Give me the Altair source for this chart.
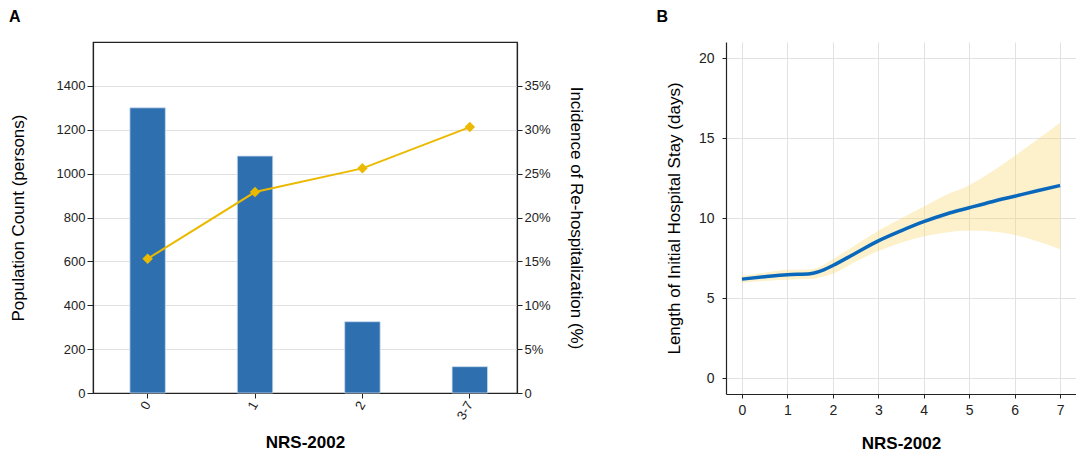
import altair as alt
import pandas as pd

# ---- Panel A data ----
categories = ["0", "1", "2", "3-7"]
population = [1300, 1080, 325, 120]
incidence = [15.3, 22.9, 25.6, 30.3]

# ---- Panel B data ----
nrs_x = [0, 0.5, 1, 1.5, 1.8, 2, 2.5, 3, 3.5, 4, 4.5, 5, 5.5, 6, 6.5, 7]
los_fit = [6.18, 6.33, 6.46, 6.52, 6.76, 7.03, 7.8, 8.57, 9.2, 9.77, 10.25, 10.64, 11.02, 11.36, 11.7, 12.03]
los_lo = [5.97, 6.06, 6.14, 6.18, 6.35, 6.51, 7.28, 7.94, 8.46, 8.85, 9.1, 9.22, 9.15, 8.94, 8.55, 8.05]
los_hi = [6.39, 6.58, 6.76, 6.78, 7.08, 7.42, 8.31, 9.2, 9.97, 10.7, 11.45, 12.05, 12.9, 13.87, 14.9, 15.95]

FONT = "Liberation Sans"
INK = "#222222"
GRID = "#E2E2E2"

dfA = pd.DataFrame({"cat": categories, "pop": population, "inc": incidence})
dfB = pd.DataFrame({"x": nrs_x, "fit": los_fit, "lo": los_lo, "hi": los_hi})

xA = alt.X(
    "cat:N", sort=categories, title="NRS-2002",
    scale=alt.Scale(paddingInner=0.67, paddingOuter=0.309, align=0.556),
    axis=alt.Axis(labelAngle=300, labelFontSize=13, titleFontSize=17, titleFontWeight="bold",
                  titlePadding=13, tickSize=5, grid=False, labelPadding=4),
)

bars = alt.Chart(dfA).mark_bar(color="#2E6FB0", stroke="#C9D9EC", strokeWidth=0.8).encode(
    x=xA,
    y=alt.Y("pop:Q", title="Population Count (persons)",
            scale=alt.Scale(domain=[0, 1600], nice=False),
            axis=alt.Axis(values=[0, 200, 400, 600, 800, 1000, 1200, 1400], grid=True, format="d",
                          labelFontSize=13, titleFontSize=17, titleFontWeight="normal",
                          tickSize=6, labelPadding=2, titlePadding=29)),
)

yR = alt.Y("inc:Q", title="Incidence of Re-hospitalization (%)",
           scale=alt.Scale(domain=[0, 40], nice=False),
           axis=alt.Axis(orient="right", values=[0, 5, 10, 15, 20, 25, 30, 35], grid=False,
                         labelExpr="datum.value == 0 ? '0' : datum.value + '%'",
                         labelFontSize=13, titleFontSize=17, titleFontWeight="normal",
                         tickSize=5, labelPadding=2, titlePadding=16))

line = alt.Chart(dfA).mark_line(color="#EBBA00", strokeWidth=2).encode(x=xA, y=yR)
pts = alt.Chart(dfA).mark_point(shape="diamond", filled=True, size=110, color="#EBBA00", opacity=1).encode(x=xA, y=yR)

panelA = alt.layer(bars, alt.layer(line, pts)).resolve_scale(y="independent").properties(
    width=424, height=351,
    title=alt.TitleParams("A", anchor="start", frame="bounds", fontSize=16, fontWeight="bold",
                          font=FONT, color="#000", offset=17),
    view=alt.ViewConfig(stroke=INK, strokeWidth=1.2),
)

xB = alt.X("x:Q", title="NRS-2002", scale=alt.Scale(domain=[-0.35, 7.35], nice=False, zero=False),
           axis=alt.Axis(values=[0, 1, 2, 3, 4, 5, 6, 7], grid=True, labelFontSize=14,
                         titleFontSize=17, titleFontWeight="bold", titlePadding=18,
                         tickSize=4, labelPadding=5))
yB = alt.Y("fit:Q", title="Length of Initial Hospital Stay (days)",
           scale=alt.Scale(domain=[-1, 21], nice=False, zero=False),
           axis=alt.Axis(values=[0, 5, 10, 15, 20], grid=True, labelFontSize=14,
                         titleFontSize=17, titleFontWeight="normal", titlePadding=15,
                         tickSize=4, labelPadding=8))

band = alt.Chart(dfB).mark_area(color="#F6D868", opacity=0.35, interpolate="monotone").encode(
    x=xB, y=alt.Y("lo:Q", scale=alt.Scale(domain=[-1, 21], nice=False, zero=False)), y2="hi:Q")
curve = alt.Chart(dfB).mark_line(color="#0A68BC", strokeWidth=3.5, interpolate="monotone").encode(x=xB, y=yB)

panelB = alt.layer(band, curve).properties(
    width=350, height=352,
    title=alt.TitleParams("B", anchor="start", frame="bounds", fontSize=16, fontWeight="bold",
                          font=FONT, color="#000", offset=17, dx=-9),
    view=alt.ViewConfig(strokeOpacity=0),
)

chart = alt.hconcat(panelA, panelB, spacing=71).properties(padding=0).configure_axis(
    labelFont=FONT, titleFont=FONT, labelColor=INK, titleColor="#000", domainColor=INK,
    tickColor=INK, gridColor=GRID, gridWidth=1, domainWidth=1.2,
).configure_view(stroke=INK)

chart.save("out.html", embed_options={"renderer": "svg", "actions": False})
